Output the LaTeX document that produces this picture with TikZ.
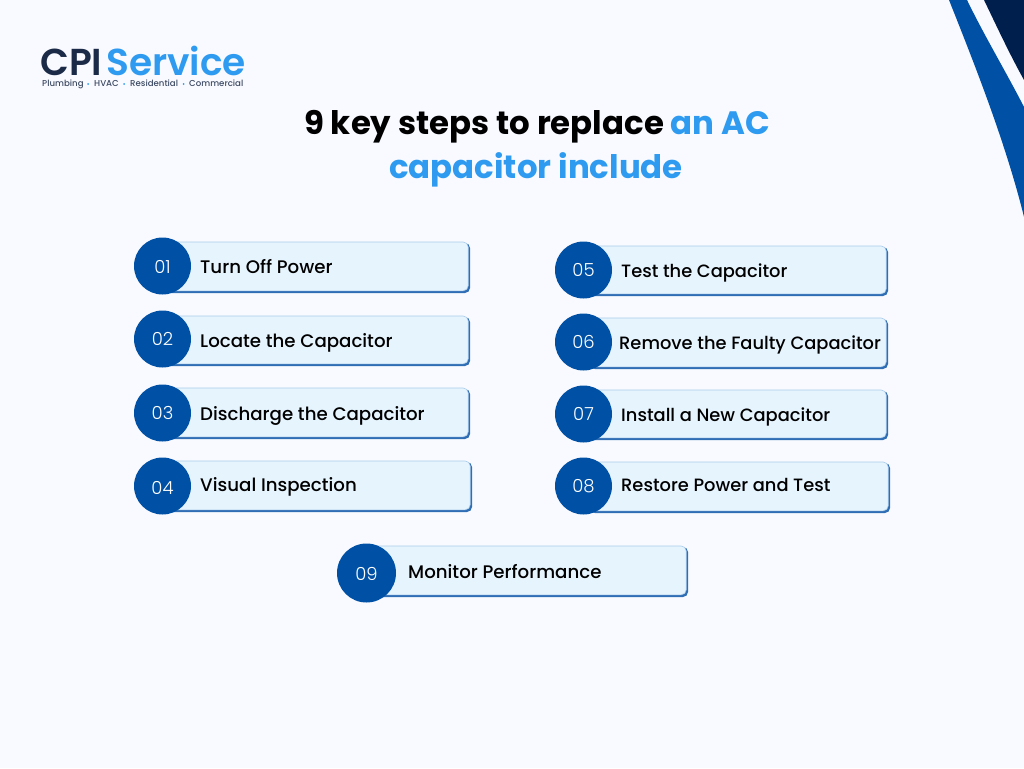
\documentclass[tikz,border=0pt]{standalone}
\usepackage{fontspec}
\setmainfont{Poppins}[UprightFont=* Medium,BoldFont=* Bold]
\newfontfamily\numfont{Poppins}[UprightFont=* Light]
\newfontfamily\logofont{Poppins}[UprightFont=* SemiBold]
\definecolor{pagebg}{HTML}{F9FAFF}
\definecolor{navy}{HTML}{0051A6}
\definecolor{deep}{HTML}{001F4D}
\definecolor{sky}{HTML}{2E9BF0}
\definecolor{cardfill}{HTML}{E6F4FE}
\definecolor{cardedge}{HTML}{2F6DB5}
\definecolor{cardtop}{HTML}{A9CBE8}
\definecolor{logodark}{HTML}{1B2A47}
\tikzset{
  x=1pt,y=-1pt,
  cardshadow/.style={fill=cardedge,rounded corners=5pt},
  cardbody/.style={fill=cardfill,draw=cardtop,line width=0.6pt,rounded corners=5pt},
  badge/.style={circle,fill=navy,draw=none,inner sep=0pt},
  numlabel/.style={anchor=base,text=white,font=\numfont\fontsize{18}{18}\selectfont,inner sep=0pt},
  steplabel/.style={anchor=base west,text=black,inner sep=0pt},
  titleblack/.style={anchor=base west,text=black,font=\bfseries\fontsize{32.4}{32.4}\selectfont,inner sep=0pt},
  tagline/.style={anchor=base west,inner sep=0pt,text=logodark!85,font=\fontsize{8.6}{8.6}\selectfont},
  logotext/.style={anchor=base west,inner sep=0pt,font=\logofont\fontsize{37.5}{37.5}\selectfont},
  tagdot/.style={fill=sky},
}
\begin{document}
\begin{tikzpicture}
\useasboundingbox (0,0) rectangle (1024,768);
\fill[pagebg] (0,0) rectangle (1024,768);
% corner swoosh
\fill[navy] (949,0) .. controls (972,58) and (1005,140) .. (1024,217) -- (1024,107) .. controls (1005,70) and (985,37) .. (967,0) -- cycle;
\fill[deep] (984,0) -- (1024,0) -- (1024,80) .. controls (1010,55) and (997,27) .. (984,0) -- cycle;
% logo
\node[logotext,text=logodark] (logoa) at (40,75) {CPI};
\node[logotext,text=sky] (logob) at (106,75) {Service};
\node[tagline] (tag1) at (42,86.5) {Plumbing};
\node[tagline] (tag2) at (94,86.5) {HVAC};
\node[tagline] (tag3) at (130,86.5) {Residential};
\node[tagline] (tag4) at (189,86.5) {Commercial};
\fill[tagdot] (88,84) circle (1pt) (124,84) circle (1pt) (183.5,84) circle (1pt);
% title
\node[titleblack] (titlea) at (304,134) {9 key steps to replace \textcolor{sky}{an AC}};
\node[titleblack,text=sky] (titleb) at (389,178) {capacitor include};
% cards
\foreach \n/\l/\t/\r/\b/\cx/\cy/\rad/\ny/\tx/\ty/\fs/\lab in {
 1/165/242/470/293/162.5/266/28.5/273/200/273/18.2/Turn Off Power,
 2/165/316/470/366/162.5/339/28.5/345/200/347/18.2/Locate the Capacitor,
 3/165/388/470/439/162.5/413/28.5/419/200/420/18.2/Discharge the Capacitor,
 4/165/461/472/512/162.5/486/28.5/494/200/491/18.2/Visual Inspection,
 5/590/246/888/296/583.5/270/28.5/276/621/277/17.85/Test the Capacitor,
 6/590/318/888/369/583.5/342/28.5/348/619/349/17.85/Remove the Faulty Capacitor,
 7/590/390/888/440/583.5/414/28.5/420/621/421/17.85/Install a New Capacitor,
 8/590/462/890/513/583.5/486/28.5/492/621/491/17.85/Restore Power and Test,
 9/370/546/688/597/366.5/573/29.5/580/408/578/18.2/Monitor Performance}{
  \fill[cardshadow] (\l,\t+1) rectangle (\r,\b);
  \path[cardbody] (\l,\t) rectangle (\r-1.8,\b-2.2);
  \node[badge,minimum size=2*\rad*1pt] (badge\n) at (\cx,\cy) {};
  \node[numlabel] (num\n) at (\cx,\ny) {0\n};
  \node[steplabel,font=\fontsize{\fs}{\fs}\selectfont] (text\n) at (\tx,\ty) {\lab};
}
\end{tikzpicture}
\end{document}
